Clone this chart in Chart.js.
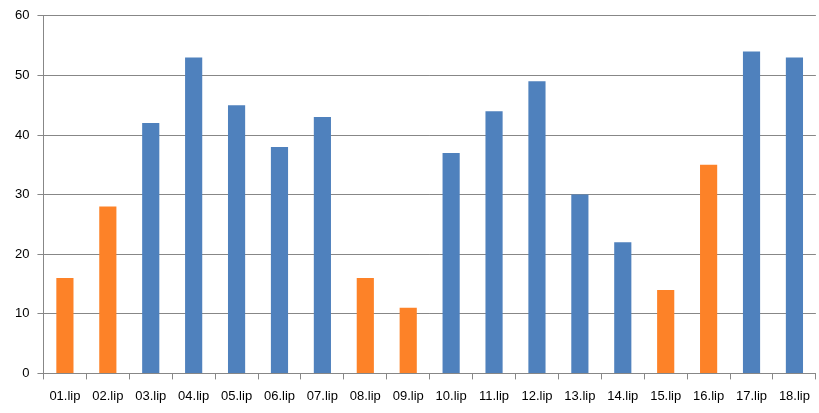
<!DOCTYPE html>
<html>
<head>
<meta charset="utf-8">
<script src="https://cdn.jsdelivr.net/npm/chart.js@4"></script>
<style>
  html, body { margin: 0; padding: 0; background: #fff; }
  #wrap { width: 819px; height: 413px; }
</style>
</head>
<body>
<div id="wrap"><canvas id="myChart"></canvas></div>
<script>
const categorias = ["01.lip", "02.lip", "03.lip", "04.lip", "05.lip", "06.lip", "07.lip", "08.lip", "09.lip",
  "10.lip", "11.lip", "12.lip", "13.lip", "14.lip", "15.lip", "16.lip", "17.lip", "18.lip"];
const valores = [16, 28, 42, 53, 45, 38, 43, 16, 11, 37, 44, 49, 30, 22, 14, 35, 54, 53];
// 1 = naranja, 0 = azul
const resaltado = [1, 1, 0, 0, 0, 0, 0, 1, 1, 0, 0, 0, 0, 0, 1, 1, 0, 0];
const ticksY = [0, 10, 20, 30, 40, 50, 60];

const azul = "#4F81BD";
const naranja = "#FD8228";
const gris = "#878787";

const ctx = document.getElementById("myChart");

new Chart(ctx, {
  type: "bar",
  data: {
    labels: categorias,
    datasets: [
      {
        data: valores,
        backgroundColor: resaltado.map((r) => (r ? naranja : azul)),
        borderWidth: 0,
        barPercentage: 0.8,
        categoryPercentage: 0.5,
      },
    ],
  },
  options: {
    responsive: true,
    maintainAspectRatio: false,
    animation: false,
    layout: { padding: { top: 8, right: 1, left: 7, bottom: 0 } },
    plugins: { legend: { display: false }, tooltip: { enabled: false } },
    scales: {
      x: {
        grid: { display: true, drawOnChartArea: false, color: gris, tickLength: 6, offset: true },
        border: { color: gris, width: 1 },
        ticks: { color: "#000", font: { family: "Liberation Sans", size: 13 }, padding: 9, maxRotation: 0, autoSkip: false },
      },
      y: {
        min: 0,
        max: 60,
        afterBuildTicks: (axis) => { axis.ticks = ticksY.map((v) => ({ value: v })); },
        grid: { color: gris, tickLength: 6 },
        border: { color: gris, width: 1 },
        ticks: { color: "#000", font: { family: "Liberation Sans", size: 13 }, padding: 8 },
      },
    },
  },
});
</script>
</body>
</html>
